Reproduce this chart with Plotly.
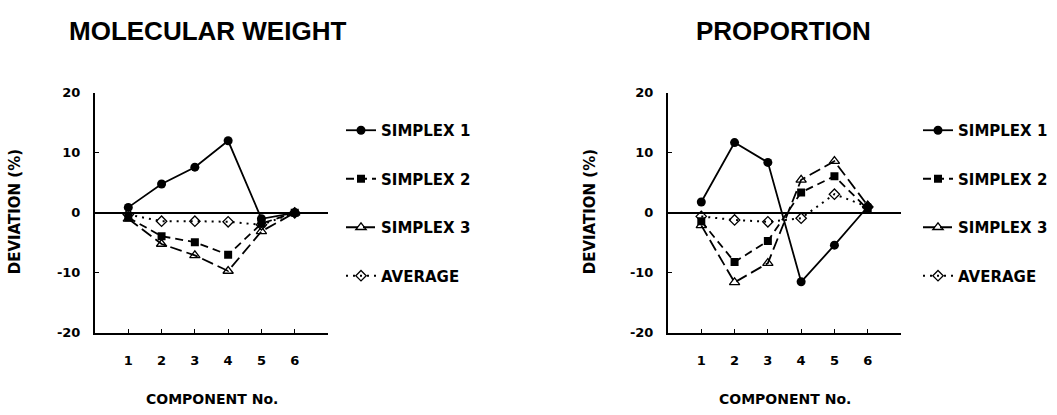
import plotly.graph_objects as go

components = [1, 2, 3, 4, 5, 6]
series_names = ["SIMPLEX 1", "SIMPLEX 2", "SIMPLEX 3", "AVERAGE"]

mw_simplex1 = [0.9, 4.8, 7.6, 12.0, -1.0, 0.0]
mw_simplex2 = [-0.8, -3.9, -4.9, -7.0, -1.8, 0.0]
mw_simplex3 = [-1.0, -5.2, -7.1, -9.7, -3.1, 0.0]
mw_average = [-0.3, -1.4, -1.4, -1.5, -2.0, 0.0]

pr_simplex1 = [1.8, 11.7, 8.4, -11.5, -5.4, 1.0]
pr_simplex2 = [-1.4, -8.2, -4.7, 3.4, 6.1, 0.6]
pr_simplex3 = [-2.1, -11.6, -8.4, 5.5, 8.6, 1.2]
pr_average = [-0.6, -1.2, -1.5, -0.9, 3.1, 1.0]

y_ticks = [-20, -10, 0, 10, 20]
y_tick_labels = ["-20", "-10", "0", "10", "20"]
x_tick_labels = ["1", "2", "3", "4", "5", "6"]

heavy = "DejaVu Sans"
title_font = "Liberation Sans"

styles = [
    dict(line=dict(color="black", width=1.8, dash="solid"),
         marker=dict(symbol="circle", size=9, color="black")),
    dict(line=dict(color="black", width=1.8, dash="8px,5px"),
         marker=dict(symbol="square", size=8, color="black")),
    dict(line=dict(color="black", width=1.8, dash="12px,5px"),
         marker=dict(symbol="triangle-up-open", size=9, color="black", line=dict(width=1.3))),
    dict(line=dict(color="black", width=2, dash="2px,5px"),
         marker=dict(symbol="diamond-open", size=8, color="black", line=dict(width=1.3))),
]

fig = go.Figure()

for xa, ya, leg, data in [
    ("x", "y", "legend", [mw_simplex1, mw_simplex2, mw_simplex3, mw_average]),
    ("x2", "y2", "legend2", [pr_simplex1, pr_simplex2, pr_simplex3, pr_average]),
]:
    for i, (name, vals) in enumerate(zip(series_names, data)):
        fig.add_trace(go.Scatter(
            x=components, y=vals, name=name, mode="lines+markers",
            xaxis=xa, yaxis=ya, legend=leg, legendgroup=f"{leg}{i}",
            line=styles[i]["line"], marker=styles[i]["marker"],
        ))

axis_common = dict(showgrid=False, showline=True, linecolor="black", linewidth=2,
                   ticks="inside", ticklen=4, tickcolor="black", tickwidth=1,
                   tickfont=dict(family=heavy, size=13, color="black", weight="bold"))

xaxis_cfg = dict(axis_common, range=[0, 7], tickvals=components, ticktext=x_tick_labels,
                 zeroline=False, ticklabelstandoff=15)
yaxis_cfg = dict(axis_common, range=[-20, 20], tickvals=y_ticks, ticktext=y_tick_labels,
                 zeroline=True, zerolinecolor="black", zerolinewidth=2, ticklabelstandoff=10)

W, H = 1057, 415
legend_font = dict(family=heavy, size=15, color="black", weight="bold")
fig.update_layout(
    width=W, height=H,
    margin=dict(l=0, r=0, t=0, b=0),
    paper_bgcolor="white", plot_bgcolor="white",
    xaxis=dict(xaxis_cfg, domain=[95 / W, 328 / W], anchor="y"),
    yaxis=dict(yaxis_cfg, domain=[1 - 338 / H, 1 - 89 / H], anchor="x"),
    xaxis2=dict(xaxis_cfg, domain=[668 / W, 901 / W], anchor="y2"),
    yaxis2=dict(yaxis_cfg, domain=[1 - 338 / H, 1 - 89 / H], anchor="x2"),
    legend=dict(x=341 / W, y=1 - 111 / H, xanchor="left", yanchor="top",
                tracegroupgap=26, bgcolor="rgba(0,0,0,0)", font=legend_font),
    legend2=dict(x=918 / W, y=1 - 111 / H, xanchor="left", yanchor="top",
                 tracegroupgap=26, bgcolor="rgba(0,0,0,0)", font=legend_font),
    annotations=[
        dict(text="MOLECULAR WEIGHT", x=207.5 / W, y=1 - 25 / H, xref="paper", yref="paper",
             showarrow=False, xanchor="center", yanchor="middle",
             font=dict(family=title_font, size=26, color="black", weight="bold")),
        dict(text="PROPORTION", x=783 / W, y=1 - 25 / H, xref="paper", yref="paper",
             showarrow=False, xanchor="center", yanchor="middle",
             font=dict(family=title_font, size=26, color="black", weight="bold")),
        dict(text="DEVIATION (%)", x=15 / W, y=1 - 213 / H, xref="paper", yref="paper",
             showarrow=False, xanchor="center", yanchor="middle", textangle=-90,
             font=dict(family=heavy, size=15, color="black", weight="bold")),
        dict(text="DEVIATION (%)", x=590 / W, y=1 - 213 / H, xref="paper", yref="paper",
             showarrow=False, xanchor="center", yanchor="middle", textangle=-90,
             font=dict(family=heavy, size=15, color="black", weight="bold")),
        dict(text="COMPONENT No.", x=211.5 / W, y=1 - 407 / H, xref="paper", yref="paper",
             showarrow=False, xanchor="center", yanchor="middle",
             font=dict(family=heavy, size=14, color="black", weight="bold")),
        dict(text="COMPONENT No.", x=784.5 / W, y=1 - 407 / H, xref="paper", yref="paper",
             showarrow=False, xanchor="center", yanchor="middle",
             font=dict(family=heavy, size=14, color="black", weight="bold")),
    ],
)

fig.write_html("out.html")
